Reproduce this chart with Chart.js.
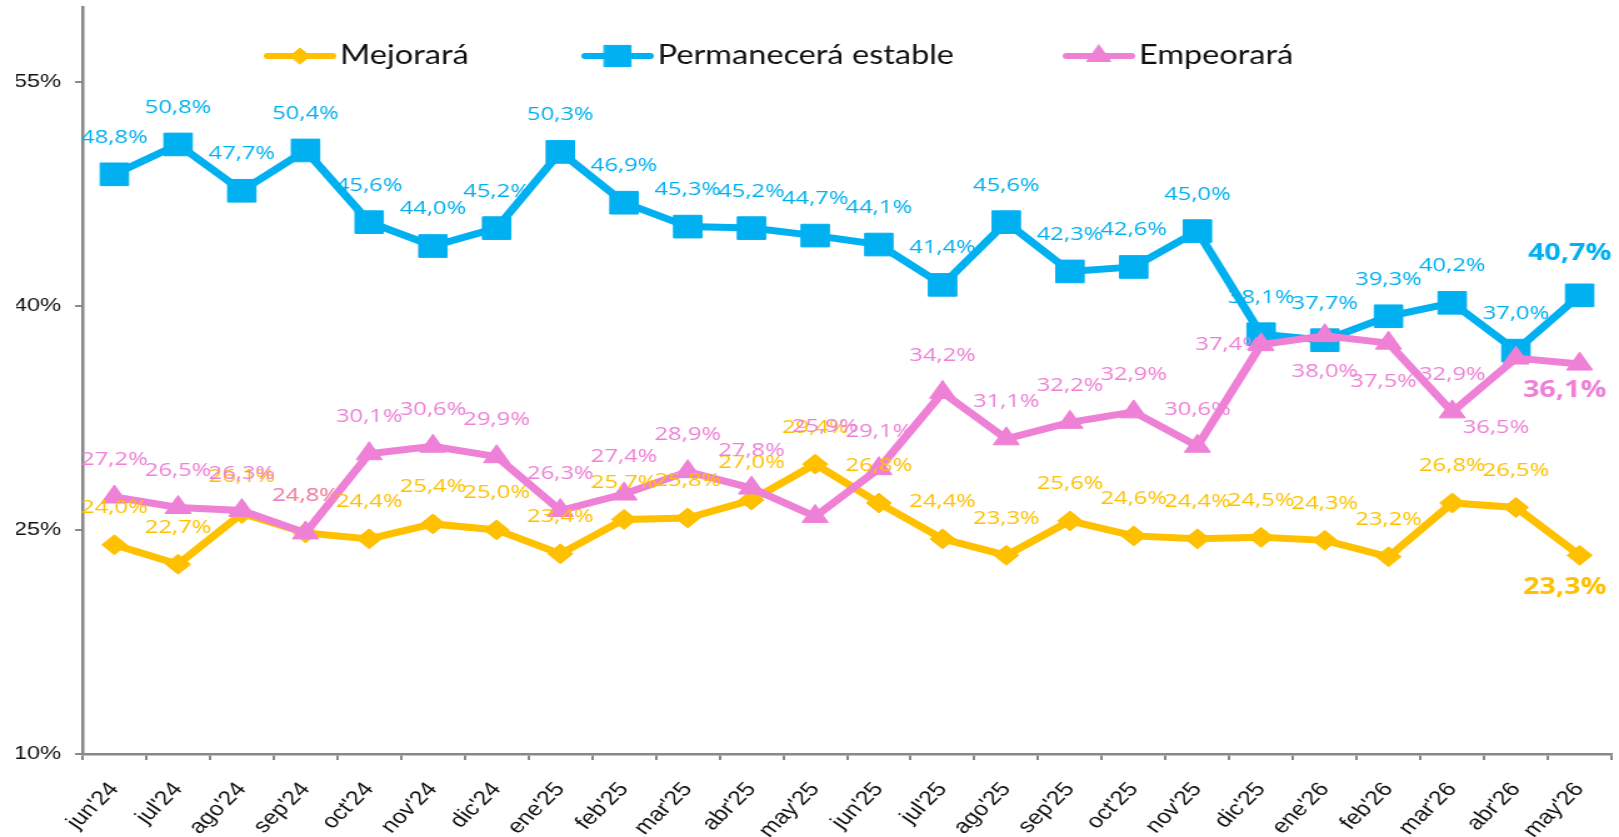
<!DOCTYPE html>
<html lang="es">
<head>
<meta charset="UTF-8">
<title>Expectativas</title>
<script src="https://cdn.jsdelivr.net/npm/chart.js"></script>
<style>
  html, body { margin: 0; padding: 0; background: #fff; }
  /* the original picture is stretched sideways, so the canvas is drawn narrow and widened by css */
  #chart { display: block; }
</style>
</head>
<body>
<canvas id="chart" width="1295" height="837" style="width:1619px;height:837px"></canvas>
<script>
const months = ["jun'24", "jul'24", "ago'24", "sep'24", "oct'24", "nov'24", "dic'24", "ene'25",
  "feb'25", "mar'25", "abr'25", "may'25", "jun'25", "jul'25", "ago'25", "sep'25", "oct'25",
  "nov'25", "dic'25", "ene'26", "feb'26", "mar'26", "abr'26", "may'26"];
const mejorara = [24.0, 22.7, 26.1, 24.8, 24.4, 25.4, 25.0, 23.4, 25.7, 25.8, 27.0, 29.4,
  26.8, 24.4, 23.3, 25.6, 24.6, 24.4, 24.5, 24.3, 23.2, 26.8, 26.5, 23.3];
const estable = [48.8, 50.8, 47.7, 50.4, 45.6, 44.0, 45.2, 50.3, 46.9, 45.3, 45.2, 44.7,
  44.1, 41.4, 45.6, 42.3, 42.6, 45.0, 38.1, 37.7, 39.3, 40.2, 37.0, 40.7];
const empeorara = [27.2, 26.5, 26.3, 24.8, 30.1, 30.6, 29.9, 26.3, 27.4, 28.9, 27.8, 25.9,
  29.1, 34.2, 31.1, 32.2, 32.9, 30.6, 37.4, 38.0, 37.5, 32.9, 36.5, 36.1];
const yTicks = [10, 25, 40, 55];

const YELLOW = '#FFC000', BLUE = '#00B0F0', PINK = '#EE80D6';
const labelFont = '19px "Open Sans"';
const boldFont = 'bold 23px "Open Sans"';

// labels sit above the point unless moved here ("dataset-point": offset from the point)
const labelTweaks = {
  '0-23': { dx: -12, dy: 32, bold: true },
  '1-23': { dx: -8, dy: -42, bold: true },
  '2-11': { dx: 8, dy: -90 },
  '2-18': { dx: -26, dy: 0 },
  '2-19': { dx: 0, dy: 36 },
  '2-20': { dx: -4, dy: 38 },
  '2-22': { dx: -16, dy: 70 },
  '2-23': { dx: -12, dy: 26, bold: true }
};

const pointLabels = {
  id: 'pointLabels',
  afterDatasetsDraw(chart) {
    const ctx = chart.ctx;
    ctx.save();
    ctx.textAlign = 'center';
    ctx.textBaseline = 'middle';
    chart.data.datasets.forEach((ds, di) => {
      chart.getDatasetMeta(di).data.forEach((pt, i) => {
        const t = labelTweaks[di + '-' + i] || { dx: 0, dy: -37 };
        ctx.font = t.bold ? boldFont : labelFont;
        ctx.fillStyle = ds.borderColor;
        ctx.fillText(ds.data[i].toFixed(1).replace('.', ',') + '%', pt.x + t.dx, pt.y + t.dy);
      });
    });
    ctx.restore();
  }
};

// legend drawn by hand so it can sit inside the plot
const legendX = [211, 465, 850];
const legendRadius = [8, 15, 11];
const topLegend = {
  id: 'topLegend',
  afterDraw(chart) {
    const ctx = chart.ctx, y = 56;
    ctx.save();
    chart.data.datasets.forEach((ds, i) => {
      const x0 = legendX[i];
      ctx.strokeStyle = ds.borderColor;
      ctx.lineWidth = 6;
      ctx.lineCap = 'round';
      ctx.beginPath();
      ctx.moveTo(x0 + 3, y);
      ctx.lineTo(x0 + 55, y);
      ctx.stroke();
      ctx.fillStyle = ds.borderColor;
      ctx.lineWidth = 1;
      Chart.helpers.drawPoint(ctx, { pointStyle: ds.pointStyle, radius: legendRadius[i], borderWidth: 1 }, x0 + 29, y);
      ctx.font = '26px Lato';
      ctx.fillStyle = '#111';
      ctx.textAlign = 'left';
      ctx.textBaseline = 'middle';
      ctx.fillText(ds.label, x0 + 61, y);
    });
    ctx.restore();
  }
};

function series(label, data, color, style, radius, order) {
  return {
    label: label,
    data: data,
    borderColor: color,
    backgroundColor: color,
    pointBackgroundColor: color,
    pointBorderColor: color,
    borderWidth: 7,
    pointStyle: style,
    pointRadius: radius,
    pointHoverRadius: radius,
    pointBorderWidth: 1,
    tension: 0,
    order: order
  };
}

function noPadding(scale) {
  scale.paddingTop = 0;
  scale.paddingBottom = 0;
  scale.paddingLeft = 0;
  scale.paddingRight = 0;
}

new Chart(document.getElementById('chart'), {
  type: 'line',
  data: {
    labels: months,
    datasets: [
      series('Mejorará', mejorara, YELLOW, 'rectRot', 10, 3),
      series('Permanecerá estable', estable, BLUE, 'rect', 16, 2),
      series('Empeorará', empeorara, PINK, 'triangle', 12, 1)
    ]
  },
  options: {
    responsive: false,
    animation: false,
    layout: { autoPadding: false, padding: { left: 13, right: 6, top: 7, bottom: 0 } },
    plugins: {
      legend: { display: false },
      tooltip: { enabled: false }
    },
    scales: {
      x: {
        offset: true,
        grid: { offset: true, drawOnChartArea: false, tickLength: 6, color: '#888', lineWidth: 2 },
        border: { color: '#888', width: 2.5 },
        ticks: {
          autoSkip: false, maxRotation: 50, minRotation: 50, padding: 18, color: '#111',
          font: { family: 'Liberation Sans', size: 20 }
        },
        afterFit(scale) { scale.height = 83; noPadding(scale); }
      },
      y: {
        min: 10,
        max: 60,
        afterBuildTicks(scale) { scale.ticks = yTicks.map(v => ({ value: v })); },
        grid: { drawOnChartArea: false, tickLength: 6, color: '#888', lineWidth: 2 },
        border: { color: '#888', width: 2.5 },
        ticks: {
          padding: 11, color: '#111',
          font: { family: 'Liberation Sans', size: 19 },
          callback: v => v + '%'
        },
        afterFit(scale) { scale.width = 53; noPadding(scale); }
      }
    }
  },
  plugins: [pointLabels, topLegend]
});
</script>
</body>
</html>
